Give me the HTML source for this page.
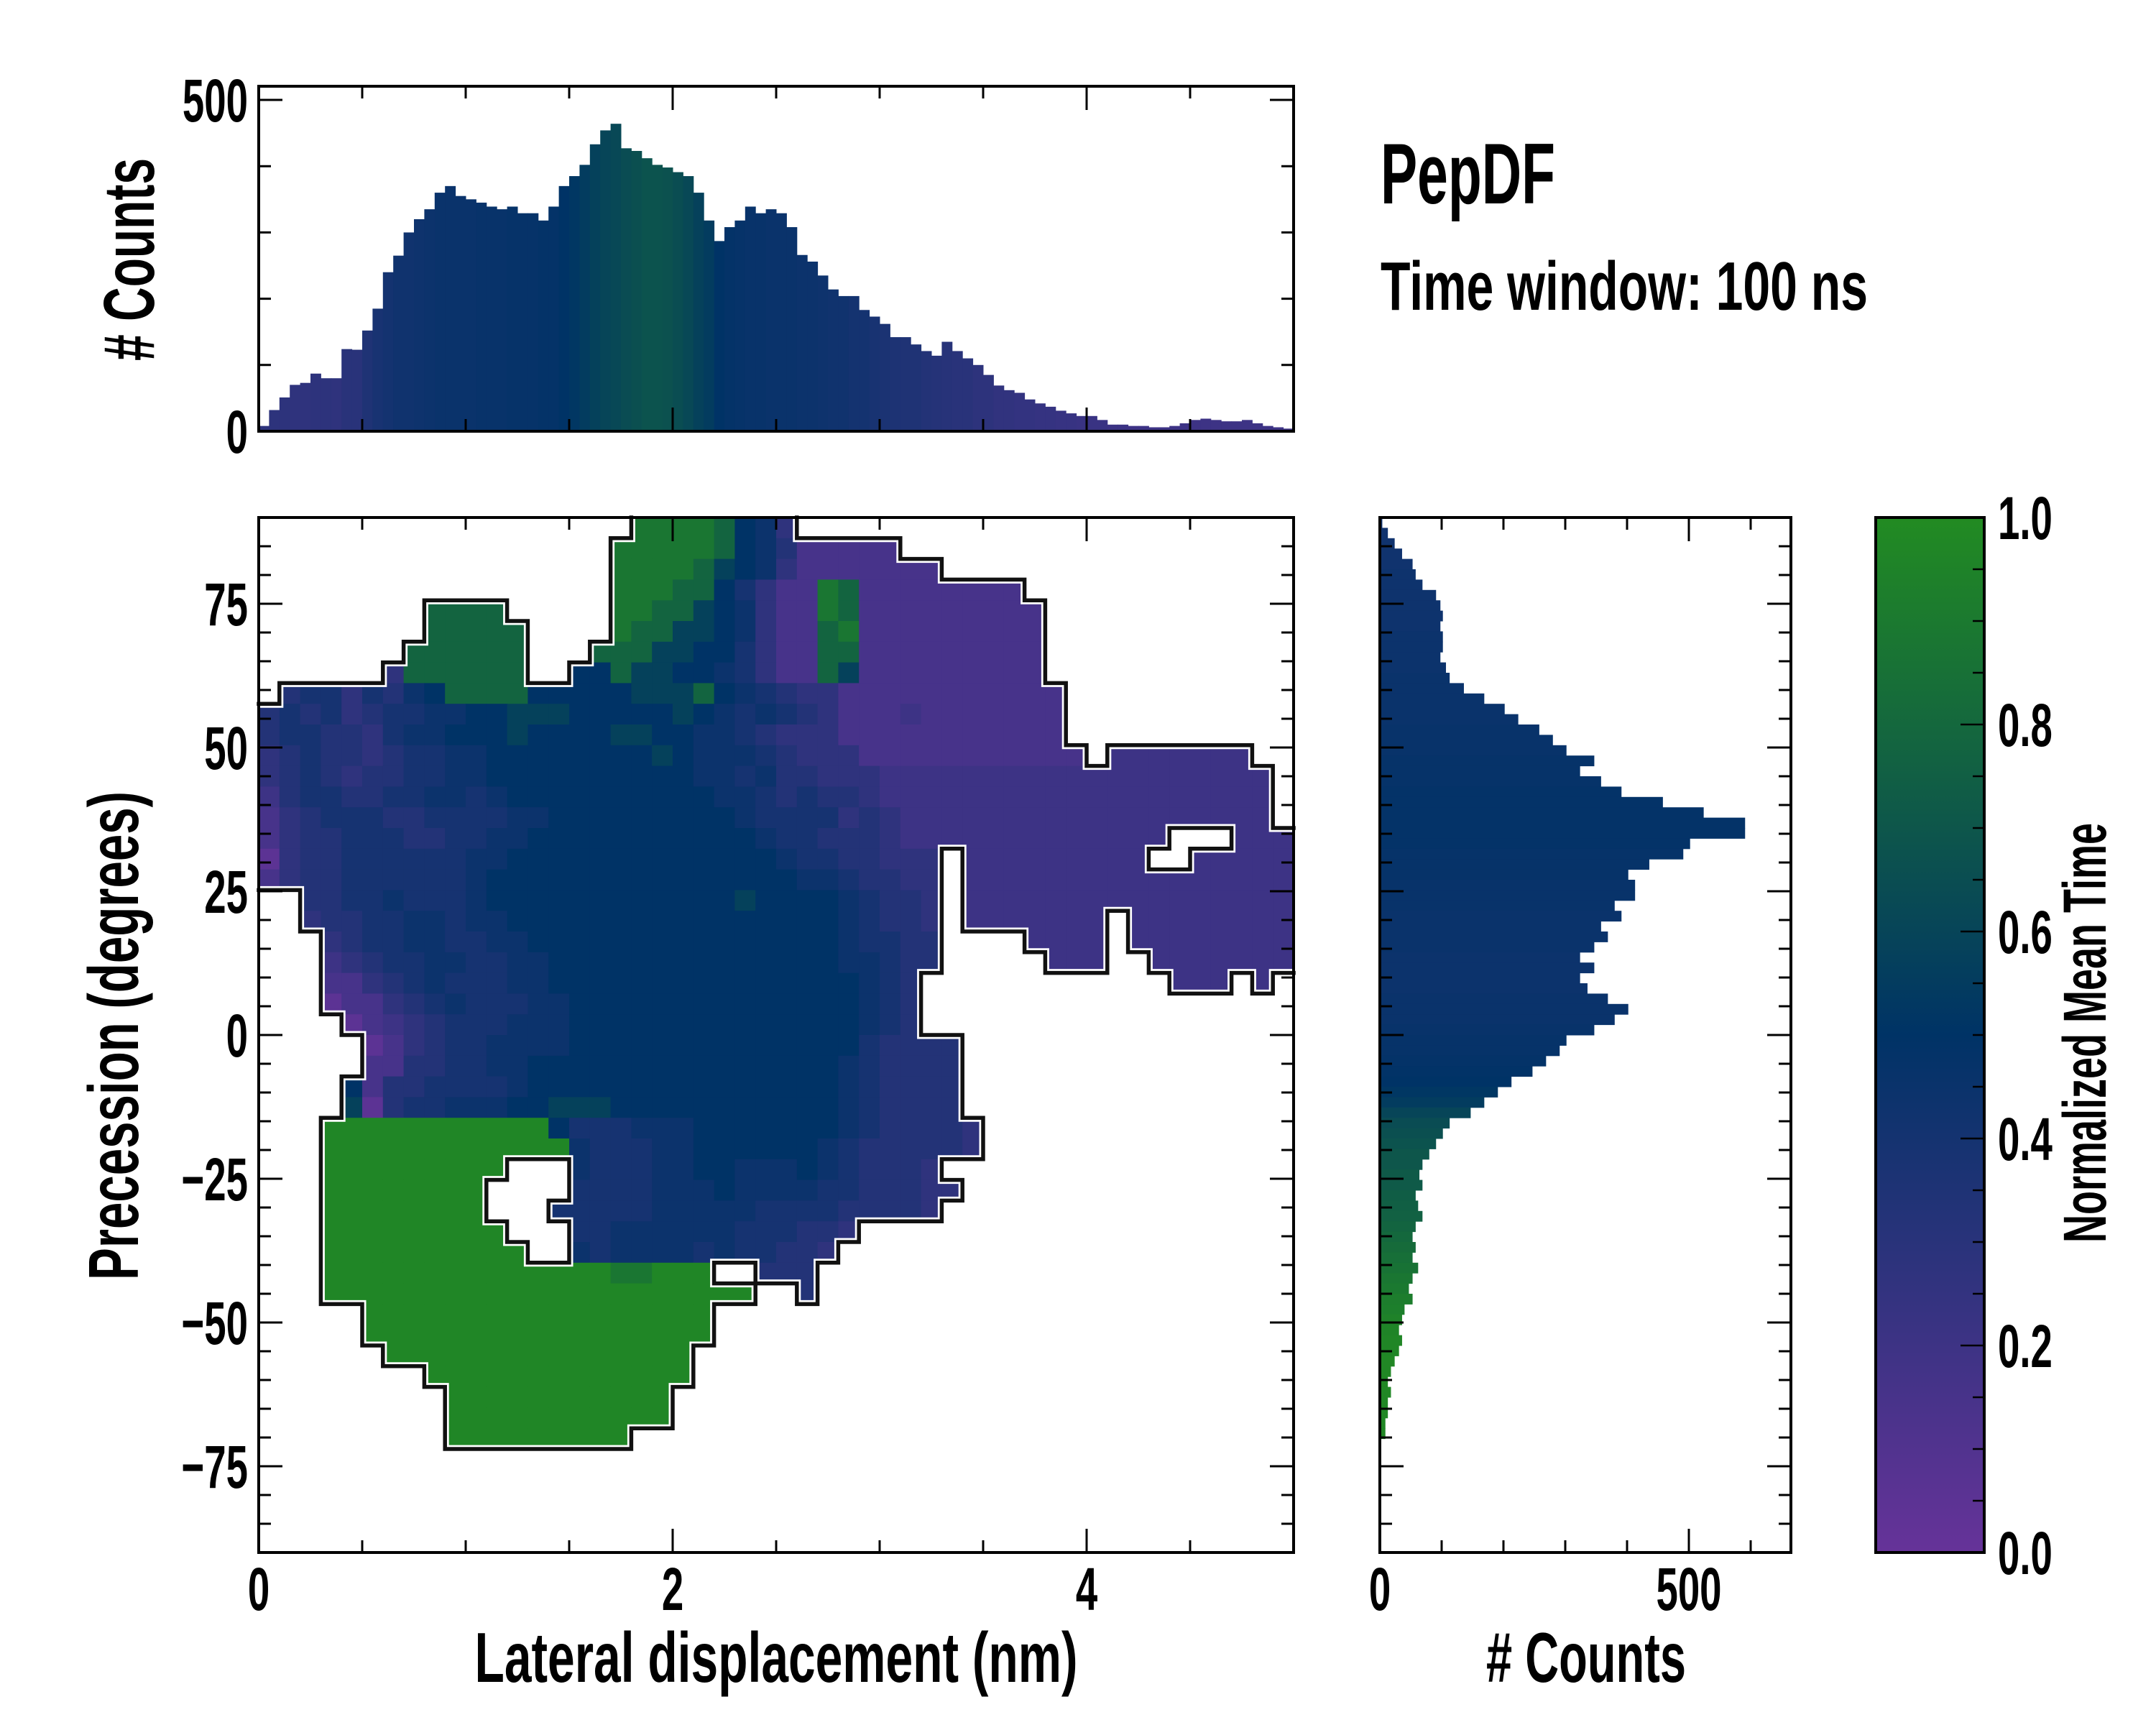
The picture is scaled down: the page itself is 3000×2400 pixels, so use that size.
<!DOCTYPE html>
<html><head><meta charset="utf-8"><title>PepDF</title>
<style>
html,body{margin:0;padding:0;background:#fff;}
svg{display:block;font-family:"Liberation Sans",sans-serif;font-weight:bold;}
</style></head>
<body>
<svg id="fig" xmlns="http://www.w3.org/2000/svg" width="3000" height="2400" viewBox="0 0 3000 2400">
<rect x="0" y="0" width="3000" height="2400" fill="#fff"/>
<g id="heat"></g>
<g id="outline"></g>
<g id="tophist"></g>
<g id="righthist"></g>
<defs><linearGradient id="cbgrad" x1="0" y1="1" x2="0" y2="0">
<stop offset="0" stop-color="#663399"/><stop offset="0.5" stop-color="#003366"/><stop offset="1" stop-color="#228B22"/></linearGradient></defs>
<rect x="2610" y="720" width="151" height="1440" fill="url(#cbgrad)"/>
<g id="axes"></g>
<g id="labels"></g>
</svg>
<script>
// ---------- data ----------
const topCounts = [8,32,51,70,73,87,80,80,124,123,
152,185,240,265,300,320,335,360,370,355,
350,345,339,335,339,329,329,318,339,370,
385,402,433,454,464,427,423,412,402,398,
391,385,360,318,287,308,318,339,329,335,
329,308,266,256,235,214,204,204,183,173,
162,142,142,131,121,114,135,121,110,100,
85,69,62,58,48,42,37,31,27,23,
23,17,10,10,8,8,6,6,8,12,
17,19,17,15,15,17,12,8,6,4];
const topMean = [.28,.28,.28,.27,.27,.28,.28,.27,.3,.3,
.35,.38,.4,.42,.42,.43,.44,.45,.45,.45,
.45,.46,.46,.46,.47,.47,.47,.48,.48,.5,
.52,.55,.58,.6,.62,.64,.66,.68,.68,.67,
.65,.62,.58,.55,.5,.48,.47,.46,.46,.45,
.45,.45,.44,.44,.43,.42,.42,.4,.4,.38,
.37,.36,.35,.35,.33,.32,.31,.3,.3,.28,
.28,.26,.26,.25,.25,.24,.24,.23,.23,.22,
.22,.22,.21,.21,.2,.2,.2,.2,.2,.2,
.2,.2,.2,.2,.2,.2,.2,.2,.2,.2];
const rightCounts = [4,13,24,36,53,58,69,91,98,102,
98,102,102,98,107,113,136,169,202,224,
258,280,302,347,324,358,391,458,524,591,
591,502,491,436,402,413,413,380,391,358,
369,347,324,347,324,336,369,402,380,347,
302,291,269,247,213,191,169,147,113,102,
91,80,69,64,69,58,62,69,58,53,
58,53,62,53,47,53,40,36,31,36,
31,24,18,13,18,13,13,9,9,2,
0,0,0,0,0,0,0,0,0,0];
const rightMean = [.42,.42,.42,.42,.42,.43,.43,.43,.43,.43,
.43,.44,.44,.44,.44,.45,.45,.45,.45,.45,
.46,.46,.46,.47,.47,.47,.48,.48,.48,.48,
.48,.48,.47,.47,.47,.46,.46,.46,.45,.45,
.45,.45,.44,.44,.44,.44,.45,.45,.45,.46,
.47,.47,.48,.49,.5,.52,.55,.6,.64,.66,
.68,.7,.7,.72,.72,.74,.75,.76,.78,.8,
.82,.84,.86,.88,.9,.92,.93,.95,.96,.97,
.97,.98,.98,.98,.98,.98,.98,.98,.98,.98,
0,0,0,0,0,0,0,0,0,0];
// heatmap: 50 cols (0.1 nm) x 50 rows (3.6 deg, from +90 downward); letter = mean-time level
const levelCodes = "abcdefghijkl";
const levelValues = [.05,.15,.2,.27,.33,.39,.44,.5,.58,.78,.88,.97];
const hmRows = [
"..................kkkkjhgd........................",
".................kkkkkjhgebbbbb...................",
".................kkkkjihgdbbbbbbb.................",
".................kkkjjhfdbbkjbbbbbbbb.............",
"........jjjj.....kkjjihgdbbkjbbbbbbbbb............",
"........jjjjj....kjjiihgdbbjkbbbbbbbbb............",
".......jjjjjj...jjjiihhfdbbjjbbbbbbbbb............",
"......djjjjjj..hhjiihhgfdbbjibbbbbbbbb............",
".effdfeghjjjjhhhhhiiijhgfeddbbbbbbbbbbb...........",
"efefdeffgghhiiihhhhhihgfgfedbbbcbbbbbbb...........",
"effeedfgghhhihhhhiihhggfedddbbbbbbbbbbb...........",
"defeedeffgghhhhhhhhihgggfedddbbbbbbbbbbb.ccccccc..",
"defedeeffgghhhhhhhhhhggfgeedddccccccccccccccccccc.",
"ceffeeffggfghhhhhhhhhhggfefeedccccccccccccccccccc.",
"bdefffeeffffgghhhhhhhhhgffffdedcccccccccccccccccc.",
"bdeefffeeffgghhhhhhhhhhhgffeeedccccccccccccc...cccc",
"adeeffffffgghhhhhhhhhhhhhgffeeddd.ccccccccc..ccccc",
"bdeeffffffghhhhhhhhhhhhhhhggfeedd.cccccccccccccccc",
"..eeffgfffghhhhhhhhhhhhihhhhgfeed.cccccccccccccccc",
"..deeffggfgghhhhhhhhhhhhhhhhgfeed.ccccccc.cccccccc",
"...deffggffgghhhhhhhhhhhhhhhgffee....cccc.cccccccc",
"...cdeffggffgghhhhhhhhhhhhhhggfee.....ccc..ccccccc",
"...bbdefgfffgghhhhhhhhhhhhhhhgfe............ccc.c.",
"...abbdefgfffgghhhhhhhhhhhhhhgfe..................",
"....abcdefffggghhhhhhhhhhhhhhgfe..................",
".....abdeffgggghhhhhhhhhhhhhhfeeee................",
".....bbeeffgghhhhhhhhhhhhhhhgfeeee................",
"....hbeeffffghhhhhhhhhhhhhhhgfeeee................",
"....iaeffggghhiiihhhhhhhhhhhgfeeee................",
"...lllllllllllhfffggghhhhhhhgfeeeed...............",
"...llllllllllllgfffgghhhhhhgfeeeeed...............",
"...lllllllll...gfffgghhggghgfeeed.................",
"...llllllll....ffffggghggggffeeedd................",
"...llllllll...fffffgggggffffeeeed.................",
"...lllllllll...ffggggggfffeed.....................",
"...llllllllll..gfggggfgffeed......................",
"...llllllllllllllkklll..eee.......................",
"...lllllllllllllllllllll..e.......................",
".....lllllllllllllllll............................",
".....lllllllllllllllll............................",
"......lllllllllllllll.............................",
"........lllllllllllll.............................",
".........lllllllllll..............................",
".........lllllllllll..............................",
".........lllllllll................................",
"..................................................",
"..................................................",
"..................................................",
"..................................................",
".................................................."
];
// tick label arrays
const xTickVals = [0,2,4];
const yTickVals = [75,50,25,0,-25,-50,-75];
const topYTickVals = [0,500];
const rightXTickVals = [0,500];
const cbTickVals = [0.0,0.2,0.4,0.6,0.8,1.0];

// ---------- scales ----------
const NS = "http://www.w3.org/2000/svg";
const MX0=360, MX1=1800, MY0=720, MY1=2160;
const xs = v => MX0 + v*(MX1-MX0)/5;
const yd = d => MY0 + (90-d)*(MY1-MY0)/180;
const topY = c => 600 - c*(461/500);
const rightX = c => 1920 + c*0.86;
const cbY = v => 2160 - v*1440;

function hex(n){return Math.round(n).toString(16).padStart(2,'0');}
function cmap(t){
  t=Math.max(0,Math.min(1,t));
  const a=[102,51,153], m=[0,51,102], b=[34,139,34];
  let c;
  if(t<0.5){const u=t/0.5;c=a.map((v,i)=>v+(m[i]-v)*u);}
  else{const u=(t-0.5)/0.5;c=m.map((v,i)=>v+(b[i]-v)*u);}
  return '#'+hex(c[0])+hex(c[1])+hex(c[2]);
}
function mk(tag,attrs,parent){
  const e=document.createElementNS(NS,tag);
  for(const k in attrs) e.setAttribute(k,attrs[k]);
  parent.appendChild(e); return e;
}

// ---------- heatmap ----------
const heat=document.getElementById('heat');
const nR=hmRows.length, nC=50, dxNm=0.1, dDeg=3.6;
function filled(r,c){ if(r<0||r>=nR||c<0||c>=nC) return false; return hmRows[r][c]!=='.'; }
for(let r=0;r<nR;r++){
  for(let c=0;c<nC;c++){
    const ch=hmRows[r][c]; if(ch==='.') continue;
    const v=levelValues[levelCodes.indexOf(ch)];
    const x=xs(c*dxNm), y=yd(90-r*dDeg);
    const w=xs((c+1)*dxNm)-x, h=yd(90-(r+1)*dDeg)-y;
    const cell=mk('rect',{x:x,y:y,width:w+0.6,height:h+0.6,fill:cmap(v)},heat);
    
    
  }
}
let d='';
for(let r=0;r<nR;r++){
  for(let c=0;c<nC;c++){
    if(!filled(r,c)) continue;
    const x0=xs(c*dxNm), x1=xs((c+1)*dxNm), y0=yd(90-r*dDeg), y1=yd(90-(r+1)*dDeg);
    if(r>0 && !filled(r-1,c)) d+=`M${x0} ${y0}L${x1} ${y0}`;
    if(r<nR-1 && !filled(r+1,c)) d+=`M${x0} ${y1}L${x1} ${y1}`;
    if(c>0 && !filled(r,c-1)) d+=`M${x0} ${y0}L${x0} ${y1}`;
    if(c<nC-1 && !filled(r,c+1)) d+=`M${x1} ${y0}L${x1} ${y1}`;
  }
}
const outl=document.getElementById('outline');
const halo=mk('path',{d:d,stroke:'#fff',"stroke-width":11,fill:'none',"stroke-linecap":'square'},outl);


const line=mk('path',{d:d,stroke:'#111',"stroke-width":5.5,fill:'none',"stroke-linecap":'square'},outl);



// ---------- top histogram ----------
const th=document.getElementById('tophist');
const binNm=5/topCounts.length;
topCounts.forEach((v,i)=>{
  const x=xs(i*binNm), w=xs((i+1)*binNm)-x;
  const b=mk('rect',{x:x,y:topY(v),width:w+0.5,height:topY(0)-topY(v),fill:cmap(topMean[i])},th);
  
  
});
// ---------- right histogram ----------
const rh=document.getElementById('righthist');
const binDeg=180/rightCounts.length;
rightCounts.forEach((v,j)=>{
  if(v<=0) return;
  const y=yd(90-j*binDeg), h=yd(90-(j+1)*binDeg)-y;
  const b=mk('rect',{x:rightX(0),y:y,width:rightX(v)-rightX(0),height:h+0.5,fill:cmap(rightMean[j])},rh);
  
  
});

// ---------- axes ----------
const ax=document.getElementById('axes');
function ln(x1,y1,x2,y2,w,name){
  const l=mk('line',{x1:x1,y1:y1,x2:x2,y2:y2,stroke:'#000',"stroke-width":w},ax);
  
  
}
function frame(x0,y0,x1,y1,name){
  const r=mk('rect',{x:x0,y:y0,width:x1-x0,height:y1-y0,fill:'none',stroke:'#000',"stroke-width":4},ax);
  
  
}
const MAJ=33, MIN=17;
frame(MX0,MY0,MX1,MY1,'main-frame');
for(let k=0;k<=10;k++){const v=k*0.5,x=xs(v),L=(v%2===0)?MAJ:MIN;
  ln(x,MY1,x,MY1-L,3,'main-x-tick'); ln(x,MY0,x,MY0+L,3,'main-x-tick-top');
  ln(x,600,x,600-L,3,'top-x-tick'); ln(x,120,x,120+L,3,'top-x-tick-top');}
for(let dg=-90;dg<=90;dg+=5){const y=yd(dg),L=(dg%25===0)?MAJ:MIN;
  ln(MX0,y,MX0+L,y,3,'main-y-tick'); ln(MX1,y,MX1-L,y,3,'main-y-tick-right');
  ln(1920,y,1920+L,y,3,'right-y-tick'); ln(2492,y,2492-L,y,3,'right-y-tick-right');}
frame(MX0,120,MX1,600,'top-hist-frame');
for(let c=0;c<=500;c+=100){const y=topY(c),L=(c%500===0)?MAJ:MIN;
  ln(MX0,y,MX0+L,y,3,'top-y-tick'); ln(MX1,y,MX1-L,y,3,'top-y-tick-right');}
frame(1920,MY0,2492,MY1,'right-hist-frame');
for(let c=0;c<=600;c+=100){const x=rightX(c),L=(c%500===0)?MAJ:MIN;
  ln(x,MY1,x,MY1-L,3,'right-x-tick'); ln(x,MY0,x,MY0+L,3,'right-x-tick-top');}
frame(2610,720,2761,2160,'colorbar-frame');
for(let k=0;k<=20;k++){const v=k*0.05,y=cbY(v),L=(k%4===0)?MAJ:16;
  ln(2761,y,2761-L,y,2.5,'colorbar-tick');}

// ---------- text ----------
const lab=document.getElementById('labels');
function tick(x,y,s,anchor,name){
  const t=mk('text',{transform:`translate(${x},${y}) scale(0.65,1)`,"text-anchor":anchor,"font-size":84,fill:'#000'},lab);
  t.textContent=s;
  
  
}
function fmtNum(v){return v<0?'\u2212'+Math.abs(v):String(v);}
xTickVals.forEach(v=>tick(xs(v),2240,String(v),'middle','x-tick-label'));
yTickVals.forEach(v=>tick(345,yd(v)+30,fmtNum(v),'end','y-tick-label'));
topYTickVals.forEach(v=>tick(345,topY(v)+30,String(v),'end','top-y-tick-label'));
rightXTickVals.forEach(v=>tick(rightX(v),2240,String(v),'middle','right-x-tick-label'));
cbTickVals.forEach(v=>tick(2780,cbY(v)+30,v.toFixed(1),'start','colorbar-tick-label'));

function title(attrs,s,name){
  const t=mk('text',Object.assign({fill:'#000',lengthAdjust:'spacingAndGlyphs'},attrs),lab);
  t.textContent=s;
  
  
}
title({x:1080,y:2340,"text-anchor":'middle',"font-size":98,textLength:839},'Lateral displacement (nm)','x-axis-title');
title({x:2207,y:2340,"text-anchor":'middle',"font-size":98,textLength:278},'# Counts','right-hist-x-title');
title({transform:'translate(192,1441) rotate(-90)',x:0,y:0,"text-anchor":'middle',"font-size":98,textLength:680},'Precession (degrees)','y-axis-title');
title({transform:'translate(214,361) rotate(-90)',x:0,y:0,"text-anchor":'middle',"font-size":100,textLength:282},'# Counts','top-hist-y-title');
title({transform:'translate(2930,1437) rotate(-90)',x:0,y:0,"text-anchor":'middle',"font-size":84,textLength:584},'Normalized Mean Time','colorbar-title');
title({x:1921,y:283,"text-anchor":'start',"font-size":120,textLength:243},'PepDF','figure-title');
title({x:1921,y:431,"text-anchor":'start',"font-size":96,textLength:678},'Time window: 100 ns','time-window-label');
</script>
</body></html>
